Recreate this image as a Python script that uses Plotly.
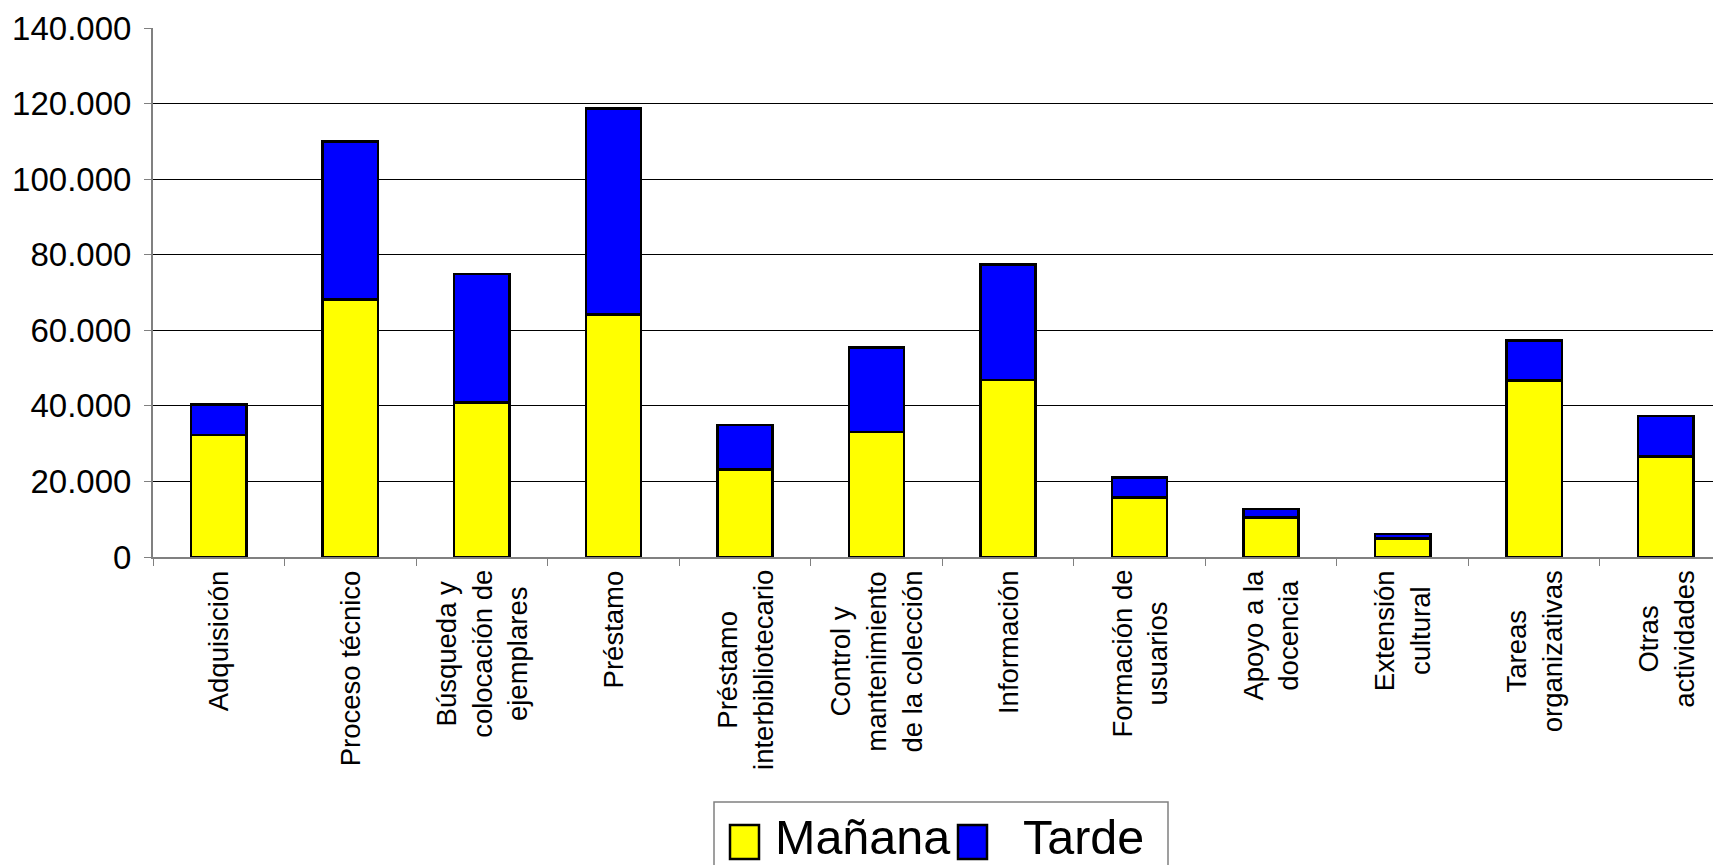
import plotly.graph_objects as go

categories = ["Adquisición", "Proceso técnico", "Búsqueda y colocación de ejemplares", "Préstamo",
              "Préstamo interbibliotecario", "Control y mantenimiento de la colección", "Información",
              "Formación de usuarios", "Apoyo a la docencia", "Extensión cultural",
              "Tareas organizativas", "Otras actividades"]
tick_labels = ["Adquisición", "Proceso técnico", "Búsqueda y<br>colocación de<br>ejemplares", "Préstamo",
               "Préstamo<br>interbibliotecario", "Control y<br>mantenimiento<br>de la colección", "Información",
               "Formación de<br>usuarios", "Apoyo a la<br>docencia", "Extensión<br>cultural",
               "Tareas<br>organizativas", "Otras<br>actividades"]
manana = [32300, 68100, 40900, 64200, 23200, 33100, 46800, 15700, 10500, 4900, 46700, 26600]
tarde = [8000, 41900, 34000, 54500, 11800, 22400, 30600, 5400, 2250, 1200, 10600, 10700]
y_ticks = [0, 20000, 40000, 60000, 80000, 100000, 120000, 140000]

OFF = 8  # default page body margin
W, H = 1721 - OFF, 865 - OFF
L, T, B = 145, 20, 308
FONT = "Liberation Sans, Arial, sans-serif"

fig = go.Figure()
fig.add_trace(go.Bar(name="Mañana", x=categories, y=manana, width=0.42,
                     marker=dict(color="#FFFF00", line=dict(color="#000000", width=2.5))))
fig.add_trace(go.Bar(name="Tarde", x=categories, y=tarde, width=0.42,
                     marker=dict(color="#0000FF", line=dict(color="#000000", width=2.5))))

fig.update_layout(
    width=W, height=H, barmode="stack", showlegend=False,
    paper_bgcolor="white", plot_bgcolor="white",
    margin=dict(l=L, r=0, t=T, b=B, pad=0),
    separators=",.",
    font=dict(family=FONT, color="#000000"),
)
fig.update_xaxes(
    type="category", range=[-0.5, 11.42],
    showticklabels=False,
    showline=True, linecolor="#808080", linewidth=2,
    ticks="outside", tickson="boundaries", ticklen=7, tickcolor="#808080",
    showgrid=False,
)
fig.update_yaxes(
    range=[0, 140000], tickvals=y_ticks, tickformat=",d",
    tickfont=dict(size=33, family=FONT, color="#000"),
    showline=True, linecolor="#808080", linewidth=2,
    ticks="outside", ticklen=7, tickcolor="#808080", ticklabelstandoff=6,
    showgrid=True, gridcolor="#000000", gridwidth=1, zeroline=False,
)

# page pixel -> paper helpers
pw = W - L
ph = H - T - B
def px(x):
    return (x - OFF - L) / pw
def py(y):
    return (H - B - (y - OFF)) / ph

# category labels, rotated with centred lines
for cat, lab in zip(categories, tick_labels):
    fig.add_annotation(x=cat, xref="x", yref="paper", y=py(568),
                       xanchor="center", yanchor="top", textangle=-90, align="center",
                       showarrow=False, text=lab,
                       font=dict(size=27.5, family=FONT, color="#000"))

# manual legend
fig.add_shape(type="rect", xref="paper", yref="paper",
              x0=px(714), x1=px(1168), y0=py(802), y1=py(880),
              line=dict(color="#808080", width=1.5), fillcolor="white", layer="above")
legend_items = [("Mañana", "#FFFF00", 730, 773), ("Tarde", "#0000FF", 958, 1021)]
for name, color, sx, tx in legend_items:
    fig.add_shape(type="rect", xref="paper", yref="paper",
                  x0=px(sx), x1=px(sx + 29), y0=py(825), y1=py(859),
                  line=dict(color="#000000", width=2.5), fillcolor=color, layer="above")
    fig.add_annotation(xref="paper", yref="paper", x=px(tx), y=py(837),
                       xanchor="left", yanchor="middle", showarrow=False,
                       text=name, font=dict(size=48.5, family=FONT, color="#000"))

fig.write_html("out.html")
